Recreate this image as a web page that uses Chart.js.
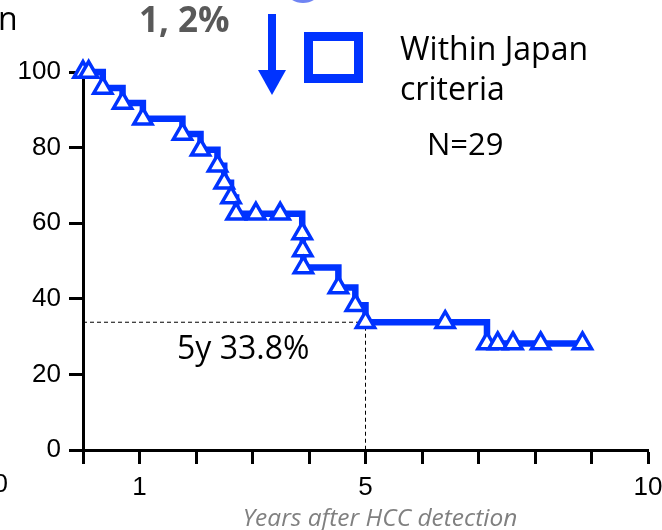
<!DOCTYPE html>
<html lang="en">
<head>
    <meta charset="UTF-8">
    <title>Survival within Japan criteria</title>
    <script src="https://cdn.jsdelivr.net/npm/chart.js"></script>
    <style>
        body { margin: 0; background: #fff; overflow: hidden; }
        #wrap { width: 662px; height: 530px; }
    </style>
</head>
<body>
    <div id="wrap"><canvas id="km" width="662" height="530"></canvas></div>
    <script>
        // event times (years) and survival (%) after each drop
        const eventTimes = [0.35, 0.70, 1.06, 1.76, 2.08, 2.38, 2.50, 2.62, 2.71, 3.88, 3.89, 3.90, 4.52, 4.82, 5.00, 7.15];
        const eventSurv  = [95.8, 91.8, 87.6, 83.6, 79.4, 75.2, 70.7, 66.8, 62.5, 57.3, 52.8, 48.3, 43.0, 38.3, 33.8, 28.2];
        // censored marks
        const censorTimes = [0, 0.10, 3.06, 3.49, 6.41, 7.34, 7.61, 8.10, 8.84];
        const censorSurv  = [100, 100, 62.5, 62.5, 33.8, 28.2, 28.2, 28.2, 28.2];
        const xTickLabels = [1, 5, 10];
        const fiveYear = 5, fiveYearSurv = 33.8;

        const blue = '#0033ff';

        const curve = [{ x: 0, y: 100 }]
            .concat(eventTimes.map((t, i) => ({ x: t, y: eventSurv[i] })))
            .concat([{ x: censorTimes[censorTimes.length - 1], y: censorSurv[censorSurv.length - 1] }]);
        const marks = eventTimes.map((t, i) => ({ x: t, y: eventSurv[i] }))
            .concat(censorTimes.map((t, i) => ({ x: t, y: censorSurv[i] })));

        const annotations = {
            id: 'annotations',
            afterDraw(chart) {
                const ctx = chart.ctx;
                ctx.save();
                // bits of the neighbouring panel
                ctx.fillStyle = '#000';
                ctx.textBaseline = 'alphabetic';
                ctx.font = '32px "Open Sans"';
                ctx.textAlign = 'left';
                ctx.fillText('n', -2, 30);
                ctx.font = '26px "Liberation Sans"';
                ctx.textAlign = 'right';
                ctx.fillText('10', 8, 492);

                // top blob
                ctx.fillStyle = '#6f84f3';
                ctx.beginPath();
                ctx.ellipse(303, -10, 17, 13, 0, 0, Math.PI * 2);
                ctx.fill();

                // arrow
                ctx.strokeStyle = blue;
                ctx.lineWidth = 8;
                ctx.beginPath();
                ctx.moveTo(272, 14);
                ctx.lineTo(272, 72);
                ctx.stroke();
                ctx.fillStyle = blue;
                ctx.beginPath();
                ctx.moveTo(258, 70);
                ctx.lineTo(286, 70);
                ctx.lineTo(272, 95);
                ctx.closePath();
                ctx.fill();

                // legend square
                ctx.lineWidth = 9;
                ctx.strokeRect(308.5, 36.5, 50, 42);

                ctx.textAlign = 'left';
                ctx.fillStyle = '#595959';
                ctx.font = 'bold 35px "Open Sans"';
                ctx.fillText('1, 2%', 139, 32);

                ctx.fillStyle = '#000';
                ctx.font = '32px "Open Sans"';
                ctx.fillText('Within Japan', 400, 60);
                ctx.fillText('criteria', 400, 100);
                ctx.font = '31px "Open Sans"';
                ctx.fillText('N=29', 427, 155);
                ctx.font = '32px "Open Sans"';
                ctx.fillText('5y 33.8%', 177, 359);

                ctx.fillStyle = '#808080';
                ctx.font = 'italic 24.5px "Open Sans"';
                ctx.textAlign = 'center';
                ctx.fillText('Years after HCC detection', 380, 526);
                ctx.restore();
            }
        };

        new Chart(document.getElementById('km').getContext('2d'), {
            type: 'scatter',
            data: {
                datasets: [
                    {
                        data: [{ x: 0, y: fiveYearSurv }, { x: fiveYear, y: fiveYearSurv }, { x: fiveYear, y: 0 }],
                        showLine: true, borderColor: '#000', borderWidth: 1, borderDash: [4, 3],
                        pointRadius: 0, order: 3
                    },
                    {
                        data: curve, showLine: true, stepped: 'before',
                        borderColor: blue, borderWidth: 6.5, pointRadius: 0, clip: false, order: 2
                    },
                    {
                        data: marks, pointStyle: 'triangle', pointRadius: 10.5,
                        pointBorderWidth: 3.5, pointBorderColor: blue, pointBackgroundColor: '#fff',
                        clip: false, order: 1
                    }
                ]
            },
            options: {
                responsive: false,
                animation: false,
                layout: { padding: { top: 72, right: 11, left: 0, bottom: 0 } },
                plugins: { legend: { display: false }, tooltip: { enabled: false } },
                scales: {
                    x: {
                        type: 'linear', min: 0, max: 10,
                        border: { color: '#000', width: 3 },
                        grid: { drawOnChartArea: false, drawTicks: true, tickLength: 14, tickWidth: 3, tickColor: '#000' },
                        ticks: {
                            stepSize: 1, padding: 8, color: '#000',
                            font: { family: '"Liberation Sans"', size: 26 },
                            maxRotation: 0, autoSkip: false,
                            callback: v => xTickLabels.includes(v) ? String(v) : ''
                        },
                        afterFit: s => { s.height = 80; s.paddingLeft = 0; s.paddingRight = 0; }
                    },
                    y: {
                        min: 0, max: 100,
                        border: { color: '#000', width: 3 },
                        grid: { drawOnChartArea: false, drawTicks: true, tickLength: 14, tickWidth: 3, tickColor: '#000' },
                        ticks: { stepSize: 20, padding: 8, color: '#000', font: { family: '"Liberation Sans"', size: 26 } },
                        afterFit: s => { s.width = 83; }
                    }
                }
            },
            plugins: [annotations]
        });
    </script>
</body>
</html>
